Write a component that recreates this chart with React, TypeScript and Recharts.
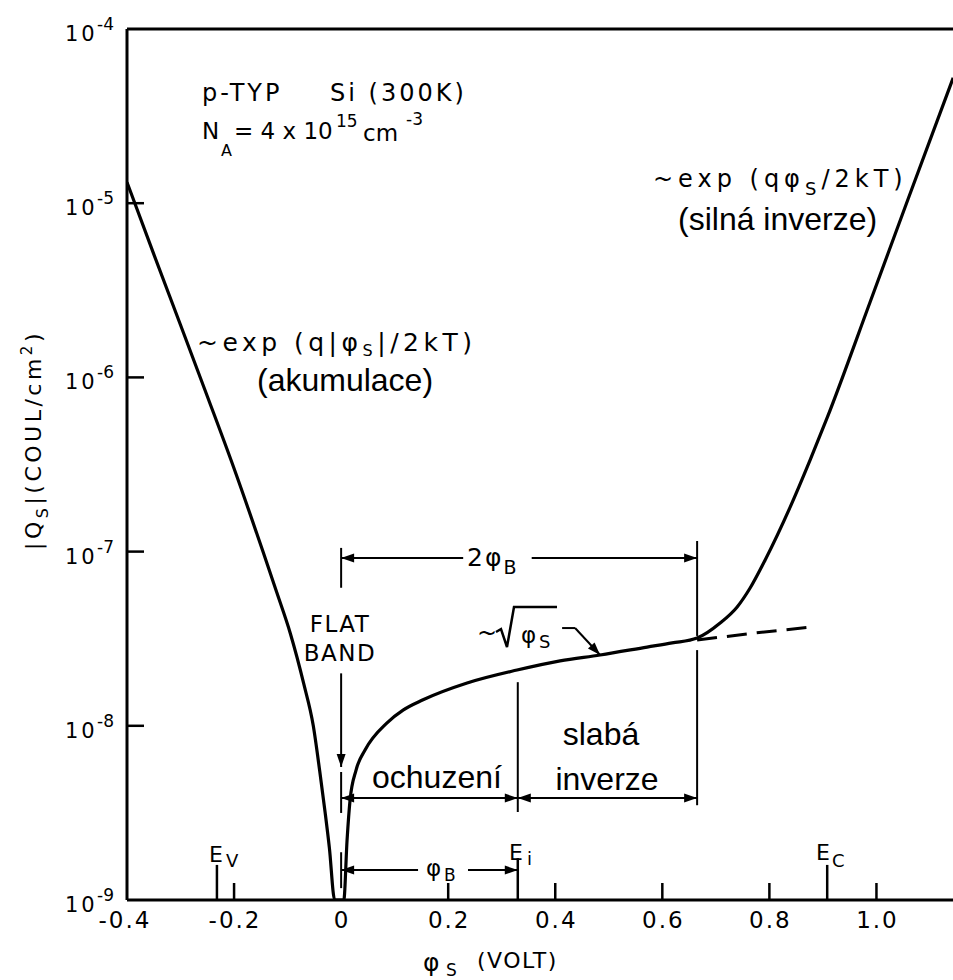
import React from 'react';
import { LineChart, Line, XAxis, YAxis, ReferenceLine } from 'recharts';

const W = 953;
const H = 980;
const LEROY = '"DejaVu Sans", sans-serif';
const SANS = '"Liberation Sans", Arial, sans-serif';

// Surface potential φS (V) and |Qs| (C/cm²) along the solid curve:
// accumulation branch, flat band, depletion / weak inversion, strong inversion.
const phiS = [
  -0.4, -0.35, -0.3, -0.25, -0.2, -0.146, -0.12, -0.095, -0.07, -0.052, -0.04, -0.03, -0.022, -0.012,
  0.005, 0.0111, 0.0167, 0.0279, 0.0447, 0.0858, 0.1157, 0.1531, 0.2353, 0.3287, 0.409, 0.4838, 0.5716, 0.6183,
  0.665, 0.708, 0.7398, 0.764, 0.7921, 0.8388, 0.8762, 0.9078, 0.9882, 1.0593, 1.1433,
];
const qsAbs = [
  1.32e-5, 5.1e-6, 2.0e-6, 7.8e-7, 3.0e-7, 1.0e-7, 5.8e-8, 3.4e-8, 1.75e-8, 1.0e-8, 5.5e-9, 3.2e-9, 2.0e-9, 1.0e-9,
  1.0e-9, 2.21e-9, 3.75e-9, 5.57e-9, 7.26e-9, 1.04e-8, 1.23e-8, 1.41e-8, 1.76e-8, 2.09e-8, 2.36e-8, 2.55e-8, 2.83e-8, 2.99e-8,
  3.19e-8, 3.89e-8, 4.81e-8, 6.18e-8, 8.95e-8, 1.8e-7, 3.36e-7, 5.85e-7, 2.71e-6, 1.06e-5, 5.24e-5,
];

// Depletion-only (~√φS) continuation beyond 2φB
const phiDash = [0.665, 0.77, 0.882];
const qsDash = [3.11e-8, 3.4e-8, 3.7e-8];

const xTicks = [-0.4, -0.2, 0, 0.2, 0.4, 0.6, 0.8, 1.0];
const xTickLabels = ['-0.4', '-0.2', '0', '0.2', '0.4', '0.6', '0.8', '1.0'];
const yTicks = [1e-9, 1e-8, 1e-7, 1e-6, 1e-5, 1e-4];
const yExponents = ['-9', '-8', '-7', '-6', '-5', '-4'];

const PHI_B = 0.33;
const TWO_PHI_B = 0.665;

// Band-edge markers on the φS axis
const bandEdges = [
  { phi: -0.232, top: 1.59e-9 },
  { phi: PHI_B, top: 1.74e-9 },
  { phi: 0.908, top: 1.59e-9 },
];

type Head = 'none' | 'start' | 'end' | 'both';
type Seg = { x1: number; y1: number; x2: number; y2: number; head: Head };

// Dimension lines and pointers, in (φS, |Qs|) coordinates
const segments: Seg[] = [
  // 2φB span
  { x1: 0, y1: 9.2e-8, x2: 0.228, y2: 9.2e-8, head: 'start' },
  { x1: 0.356, y1: 9.2e-8, x2: TWO_PHI_B, y2: 9.2e-8, head: 'end' },
  { x1: 0, y1: 1.05e-7, x2: 0, y2: 6.2e-8, head: 'none' },
  { x1: TWO_PHI_B, y1: 1.15e-7, x2: TWO_PHI_B, y2: 3.28e-8, head: 'none' },
  { x1: TWO_PHI_B, y1: 2.72e-8, x2: TWO_PHI_B, y2: 3.5e-9, head: 'none' },
  // flat band pointer
  { x1: 0, y1: 2.0e-8, x2: 0, y2: 5.8e-9, head: 'end' },
  { x1: 0, y1: 5.43e-9, x2: 0, y2: 3.16e-9, head: 'none' },
  // depletion / weak inversion spans
  { x1: 0, y1: 3.85e-9, x2: PHI_B, y2: 3.85e-9, head: 'both' },
  { x1: PHI_B, y1: 3.85e-9, x2: TWO_PHI_B, y2: 3.85e-9, head: 'both' },
  { x1: PHI_B, y1: 1.78e-8, x2: PHI_B, y2: 3.2e-9, head: 'none' },
  // φB span
  { x1: 0, y1: 1.486e-9, x2: 0.1437, y2: 1.486e-9, head: 'start' },
  { x1: 0.237, y1: 1.486e-9, x2: PHI_B, y2: 1.486e-9, head: 'end' },
  { x1: 0, y1: 1.88e-9, x2: 0, y2: 1.17e-9, head: 'none' },
  // ~√φS pointer
  { x1: 0.4128, y1: 3.64e-8, x2: 0.437, y2: 3.64e-8, head: 'none' },
  { x1: 0.437, y1: 3.64e-8, x2: 0.4838, y2: 2.55e-8, head: 'end' },
];

const curve = phiS.map((phi, i) => ({ phi, q: qsAbs[i] }));
const dashed = phiDash.map((phi, i) => ({ phi, q: qsDash[i] }));

const arrowShape = (head: Head, width = 2) => (p: any) => {
  const { x1, y1, x2, y2 } = p;
  const dx = x2 - x1;
  const dy = y2 - y1;
  const len = Math.hypot(dx, dy) || 1;
  const ux = dx / len;
  const uy = dy / len;
  const L = 13;
  const Wd = 4.5;
  const tri = (tx: number, ty: number, vx: number, vy: number) => {
    const bx = tx - vx * L;
    const by = ty - vy * L;
    return `${tx},${ty} ${bx - vy * Wd},${by + vx * Wd} ${bx + vy * Wd},${by - vx * Wd}`;
  };
  return (
    <g>
      <line x1={x1} y1={y1} x2={x2} y2={y2} stroke="#000" strokeWidth={width} />
      {(head === 'start' || head === 'both') && <polygon points={tri(x1, y1, -ux, -uy)} fill="#000" />}
      {(head === 'end' || head === 'both') && <polygon points={tri(x2, y2, ux, uy)} fill="#000" />}
    </g>
  );
};

const XTick = (props: any) => {
  const { x, y, payload } = props;
  const i = xTicks.indexOf(payload.value);
  const showLine = payload.value !== -0.4 && payload.value !== 0;
  const dx = payload.value === -0.4 ? -3 : 0;
  return (
    <g>
      {showLine && <line x1={x} x2={x} y1={y} y2={y - 17} stroke="#000" strokeWidth={2.5} />}
      <text x={x + dx + 1} y={y + 28} textAnchor="middle" fontFamily={LEROY} fontSize={23} letterSpacing={2} fill="#000">
        {xTickLabels[i]}
      </text>
    </g>
  );
};

const YTick = (props: any) => {
  const { x, y, payload } = props;
  const i = yTicks.indexOf(payload.value);
  const showLine = i > 0 && i < yTicks.length - 1;
  return (
    <g>
      {showLine && <line x1={x} x2={x + 17} y1={y} y2={y} stroke="#000" strokeWidth={2.5} />}
      <text x={x - 62} y={y + 12} fontFamily={LEROY} fontSize={21} letterSpacing={3} fill="#000">
        10
      </text>
      <text x={x - 30} y={y + 1} fontFamily={LEROY} fontSize={17} fill="#000">
        {yExponents[i]}
      </text>
    </g>
  );
};

const T = (p: any) => <text fill="#000" {...p} />;

const Annotations = () => (
  <svg width={W} height={H} style={{ position: 'absolute', left: 0, top: 0, pointerEvents: 'none' }}>
    {/* sample description */}
    <T x={202} y={101} fontFamily={LEROY} fontSize={24} letterSpacing={3}>p-TYP</T>
    <T x={330} y={101} fontFamily={LEROY} fontSize={24} letterSpacing={3}>Si (300K)</T>
    <T x={202} y={139} fontFamily={LEROY} fontSize={23}>N</T>
    <T x={221} y={156} fontFamily={LEROY} fontSize={16}>A</T>
    <T x={234} y={139} fontFamily={LEROY} fontSize={23} letterSpacing={0}>= 4 x 10</T>
    <T x={336} y={127} fontFamily={LEROY} fontSize={17}>15</T>
    <T x={363} y={141} fontFamily={LEROY} fontSize={23}>cm</T>
    <T x={406} y={125} fontFamily={LEROY} fontSize={17}>-3</T>

    {/* accumulation */}
    <T x={197} y={351} fontFamily={LEROY} fontSize={25} letterSpacing={4.5}>
      ~exp (q|φ<tspan fontSize={16} dy={5}>S</tspan><tspan dy={-5}>|/2kT)</tspan>
    </T>
    <T x={257} y={391} fontFamily={SANS} fontSize={32}>(akumulace)</T>

    {/* strong inversion */}
    <T x={653} y={187} fontFamily={LEROY} fontSize={24} letterSpacing={5}>
      ~exp (qφ<tspan fontSize={18} dy={8}>S</tspan><tspan dy={-8}>/2kT)</tspan>
    </T>
    <T x={678} y={230} fontFamily={SANS} fontSize={32}>(silná inverze)</T>

    {/* 2φB */}
    <T x={467} y={566} fontFamily={LEROY} fontSize={25} letterSpacing={2}>
      2φ<tspan fontSize={19} dy={8}>B</tspan>
    </T>

    {/* flat band */}
    <T x={340} y={632} textAnchor="middle" fontFamily={LEROY} fontSize={23} letterSpacing={1.5}>FLAT</T>
    <T x={340} y={661} textAnchor="middle" fontFamily={LEROY} fontSize={23} letterSpacing={1.5}>BAND</T>

    {/* ~√φS */}
    <T x={477} y={641} fontFamily={LEROY} fontSize={24}>~</T>
    <polyline points="496,632 501,629 507,647 514,607 557,607" fill="none" stroke="#000" strokeWidth={2.5} />
    <T x={521} y={643} fontFamily={LEROY} fontSize={23}>φ</T>
    <T x={539} y={648} fontFamily={LEROY} fontSize={18}>S</T>

    {/* region names */}
    <T x={372} y={788} fontFamily={SANS} fontSize={32}>ochuzení</T>
    <T x={601} y={745} textAnchor="middle" fontFamily={SANS} fontSize={32}>slabá</T>
    <T x={607} y={790} textAnchor="middle" fontFamily={SANS} fontSize={32}>inverze</T>

    {/* φB */}
    <T x={426} y={876} fontFamily={LEROY} fontSize={23}>φ</T>
    <T x={444} y={881} fontFamily={LEROY} fontSize={17}>B</T>

    {/* band edges */}
    <T x={209} y={862} fontFamily={LEROY} fontSize={22}>E</T>
    <T x={226} y={867} fontFamily={LEROY} fontSize={18}>V</T>
    <T x={509} y={860} fontFamily={LEROY} fontSize={22}>E</T>
    <T x={527} y={865} fontFamily={LEROY} fontSize={18}>i</T>
    <T x={816} y={860} fontFamily={LEROY} fontSize={22}>E</T>
    <T x={832} y={867} fontFamily={LEROY} fontSize={18}>C</T>

    {/* axis titles */}
    <T x={423} y={971} fontFamily={LEROY} fontSize={25}>φ</T>
    <T x={446} y={976} fontFamily={LEROY} fontSize={17}>S</T>
    <T x={477} y={968} fontFamily={LEROY} fontSize={22} letterSpacing={1.5}>(VOLT)</T>
    <T transform="translate(41,440) rotate(-90)" textAnchor="middle" fontFamily={LEROY} fontSize={22} letterSpacing={3.5}>
      |Q<tspan fontSize={16} dy={7}>S</tspan>
      <tspan dy={-7}>|(COUL/cm</tspan>
      <tspan fontSize={15} dy={-9}>2</tspan>
      <tspan dy={9}>)</tspan>
    </T>
  </svg>
);

export default function App() {
  return (
    <div style={{ position: 'absolute', left: 0, top: 0, width: W, height: H, background: '#fff' }}>
      <LineChart width={W} height={H} margin={{ top: 29, right: 0, bottom: 0, left: 0 }}>
        <XAxis
          type="number"
          dataKey="phi"
          domain={[-0.4, 1.143]}
          allowDataOverflow
          ticks={xTicks}
          interval={0}
          height={80}
          tickSize={0}
          tickMargin={0}
          tickLine={false}
          tick={(p: any) => <XTick {...p} />}
          axisLine={{ stroke: '#000', strokeWidth: 3 }}
        />
        <YAxis
          type="number"
          scale="log"
          domain={[1e-9, 1e-4]}
          allowDataOverflow
          ticks={yTicks}
          interval={0}
          width={127}
          tickSize={0}
          tickMargin={0}
          tickLine={false}
          tick={(p: any) => <YTick {...p} />}
          axisLine={{ stroke: '#000', strokeWidth: 3 }}
        />
        <ReferenceLine y={1e-4} stroke="#000" strokeWidth={3} />
        {bandEdges.map((b, i) => (
          <ReferenceLine
            key={`edge-${i}`}
            segment={[{ x: b.phi, y: 1e-9 }, { x: b.phi, y: b.top }]}
            shape={arrowShape('none', 2.5)}
          />
        ))}
        {segments.map((s, i) => (
          <ReferenceLine
            key={`seg-${i}`}
            segment={[{ x: s.x1, y: s.y1 }, { x: s.x2, y: s.y2 }]}
            shape={arrowShape(s.head)}
          />
        ))}
        <Line
          data={dashed}
          dataKey="q"
          type="linear"
          stroke="#000"
          strokeWidth={3}
          strokeDasharray="20 10"
          dot={false}
          isAnimationActive={false}
        />
        <Line
          data={curve}
          dataKey="q"
          type="monotone"
          stroke="#000"
          strokeWidth={3.2}
          dot={false}
          isAnimationActive={false}
        />
      </LineChart>
      <Annotations />
    </div>
  );
}
